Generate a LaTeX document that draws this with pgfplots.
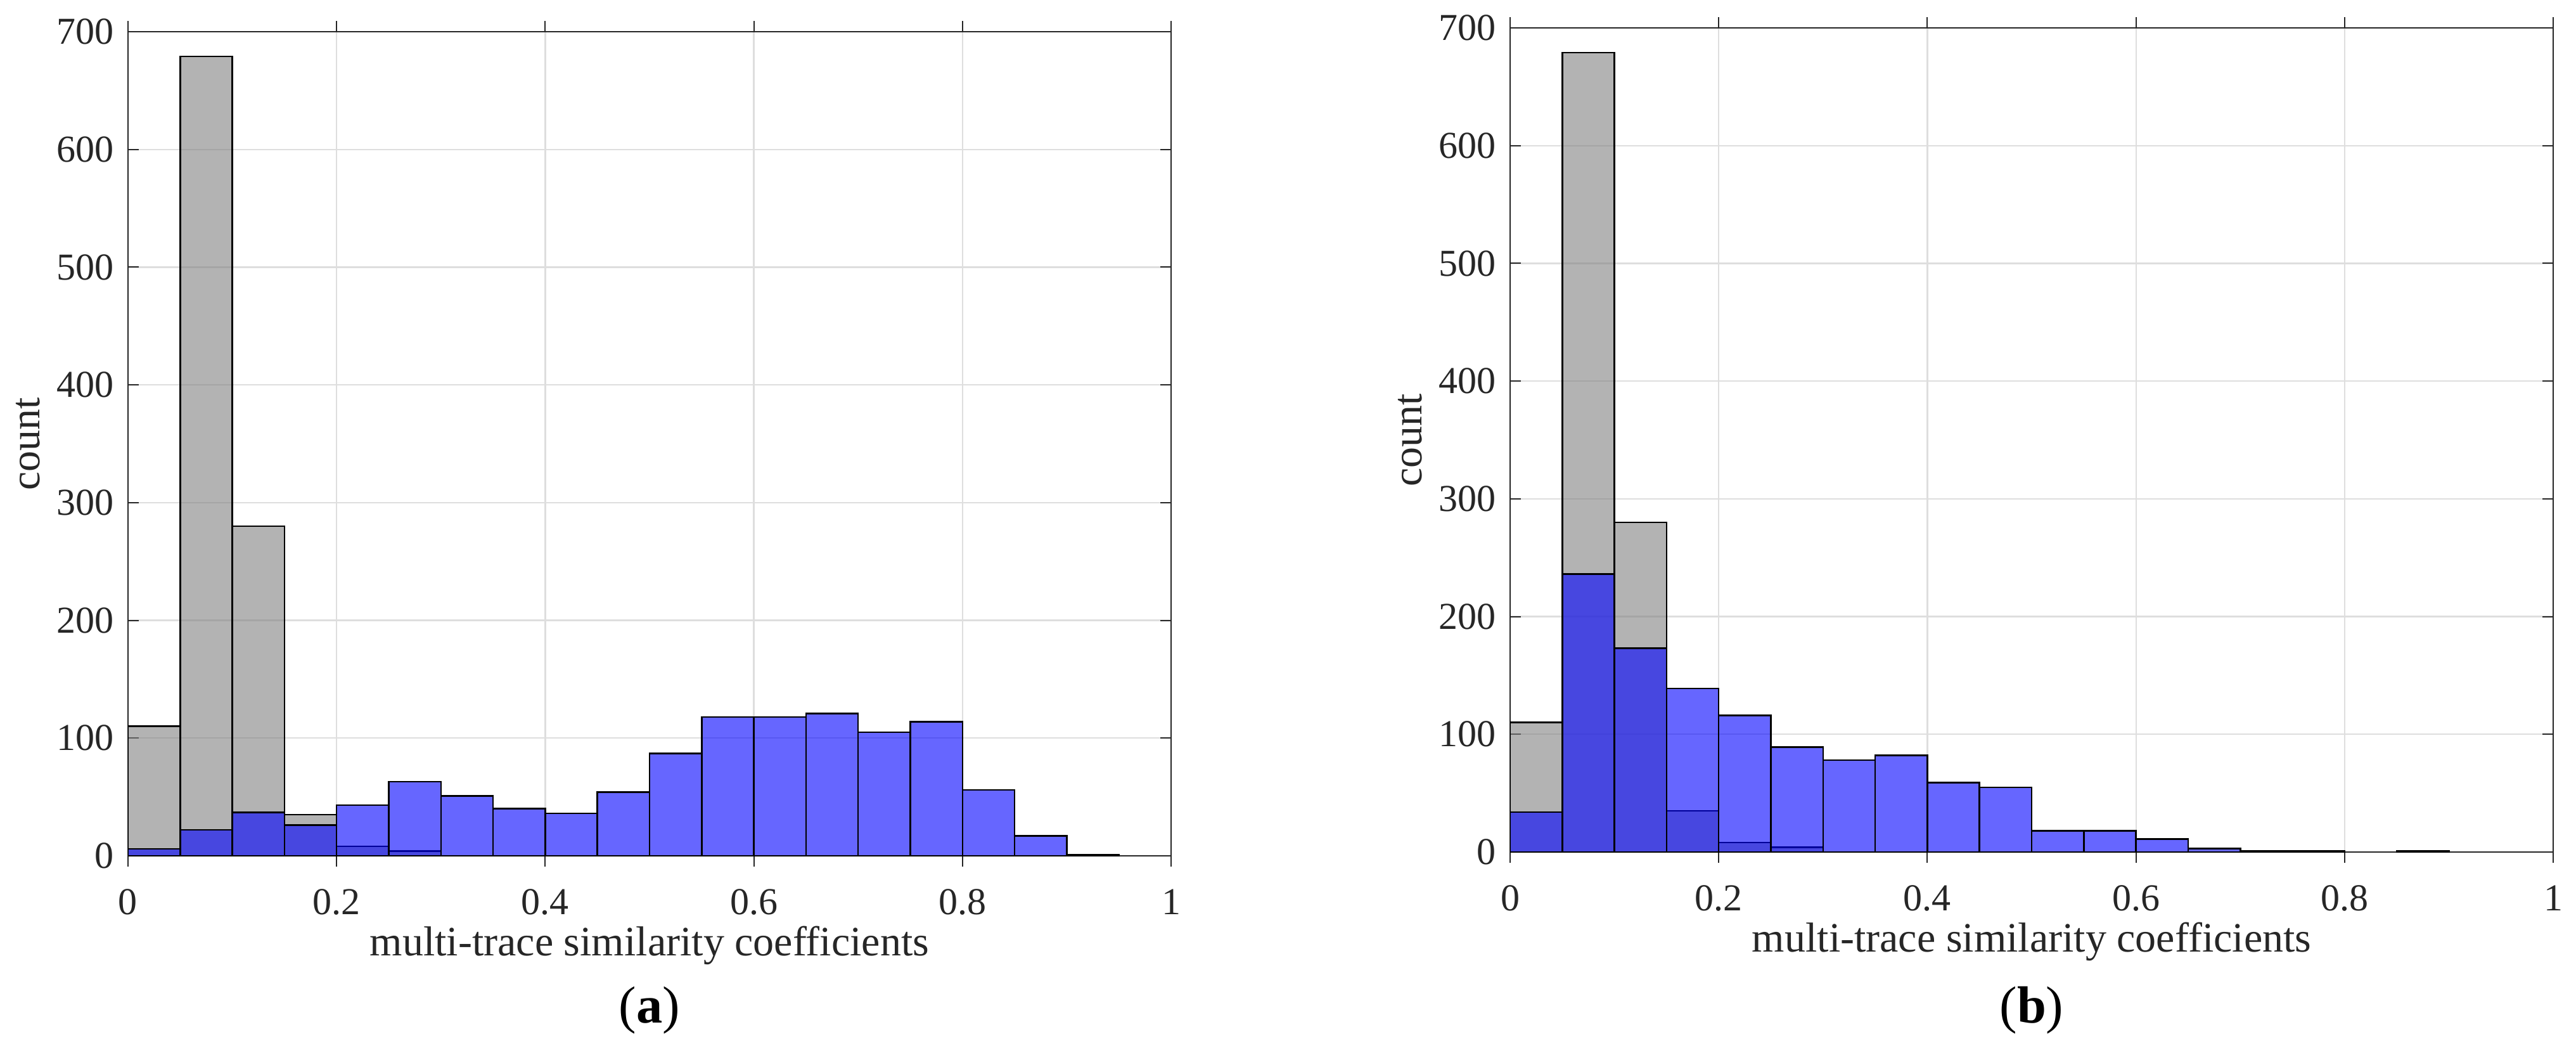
\documentclass[border=0pt]{standalone}
\usepackage{fontspec}
\setmainfont{Liberation Serif}
\usepackage{pgfplots}
\usepackage{pgfplotstable}
\pgfplotsset{compat=1.18}

% bin centre, count (bin width 0.05); empty bins left out
\pgfplotstableread{
x y
0.025 110
0.075 679
0.125 280
0.175 35
0.225 8
0.275 4
}\grey

\pgfplotstableread{
x y
0.025 6
0.075 22
0.125 37
0.175 26
0.225 43
0.275 63
0.325 51
0.375 40
0.425 36
0.475 54
0.525 87
0.575 118
0.625 118
0.675 121
0.725 105
0.775 114
0.825 56
0.875 17
0.925 1
}\bluea

\pgfplotstableread{
x y
0.025 34
0.075 236
0.125 173
0.175 139
0.225 116
0.275 89
0.325 78
0.375 82
0.425 59
0.475 55
0.525 18
0.575 18
0.625 11
0.675 3
0.725 1
0.775 1
0.875 1
}\blueb

\pgfplotsset{
  histo/.style={
    scale only axis, width=329.2pt, height=260pt,
    anchor=south west,
    xmin=0, xmax=1, ymin=0, ymax=700,
    xtick={0,0.2,0.4,0.6,0.8,1},
    xticklabels={0,0.2,0.4,0.6,0.8,1},
    ytick={0,100,200,300,400,500,600,700},
    yticklabels={0,100,200,300,400,500,600,700},
    tick label style={font=\rmfamily\fontsize{12}{14}\selectfont, text=black!85},
    xticklabel style={yshift=-3.6pt},
    yticklabel style={xshift=-1pt},
    label style={font=\rmfamily\fontsize{13.2}{15}\selectfont, text=black!85},
    xlabel={multi-trace similarity coefficients},
    ylabel={count},
    xlabel style={at={(axis description cs:0.5,-0.1215)}, anchor=base},
    ylabel style={at={(axis description cs:-0.08505,0.5)}, anchor=base},
    tick align=inside,
    xtick pos=both, ytick pos=both,
    major tick length=3.4pt,
    tick style={black!85, line width=0.4pt},
    axis line style={black!85, line width=0.45pt},
    grid=major,
    major grid style={black!13, line width=0.45pt},
    axis on top=false,
    ybar, bar width=0.05, bar shift=0pt,
  },
  greybar/.style={draw=black, line width=0.5pt, fill=black!50, fill opacity=0.6},
  bluebar/.style={draw=black, line width=0.5pt, fill=blue, fill opacity=0.6},
}

\begin{document}
\begin{tikzpicture}
\begin{axis}[histo, at={(40.4pt,62pt)}]
\addplot[greybar] table[x=x,y=y] {\grey};
\addplot[bluebar] table[x=x,y=y] {\bluea};
\end{axis}
\begin{axis}[histo, at={(476.6pt,63.2pt)}]
\addplot[greybar] table[x=x,y=y] {\grey};
\addplot[bluebar] table[x=x,y=y] {\blueb};
\end{axis}
\node[anchor=base, font=\rmfamily\fontsize{16.5}{18}\selectfont] at (205pt,9.4pt) {(\textbf{a})};
\node[anchor=base, font=\rmfamily\fontsize{16.5}{18}\selectfont] at (641.2pt,9.4pt) {(\textbf{b})};
\pgfresetboundingbox
\useasboundingbox (0,0) rectangle (813pt,332pt);
\end{tikzpicture}
\end{document}
